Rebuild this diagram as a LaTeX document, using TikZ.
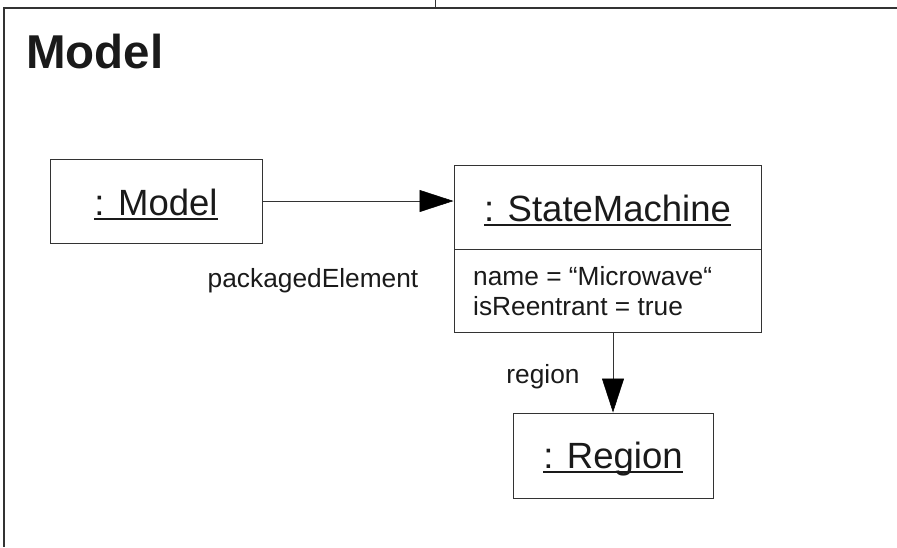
\documentclass[tikz,border=0pt]{standalone}
\usepackage{fontspec}
\setmainfont{Liberation Sans}
\usetikzlibrary{arrows.meta}
\newcommand\ulbox[1]{\setbox0=\hbox{#1}\rlap{\rule[-0.13em]{\wd0}{0.055em}}\box0}
\definecolor{linegray}{HTML}{333333}
\definecolor{textgray}{HTML}{1A1A1A}
\begin{document}
\begin{tikzpicture}[x=1pt,y=-1pt,
  objbox/.style={draw=linegray, line width=1pt, inner sep=0pt, fill=white},
  lbl/.style={inner sep=0pt, text=textgray},
  big/.style={font=\fontsize{36.5}{36.5}\selectfont},
  small/.style={font=\fontsize{26.3}{30}\selectfont},
  conn/.style={draw=linegray, line width=1pt, -{Triangle[length=34pt,width=22pt,color=black,fill=black,line width=0.5pt]}}]
\useasboundingbox (0,0) rectangle (897,547);
% frame
\draw[linegray, line width=1.3pt] (897,8) -- (4,8) -- (4,547);
\draw[linegray, line width=1pt] (435,0) -- (435,8);
\node[lbl, anchor=base west, font=\bfseries\fontsize{47.5}{47.5}\selectfont] (title) at (26,68) {Model};
% boxes
\node[objbox, minimum width=212pt, minimum height=84pt] (model) at (156,201) {};
\node[objbox, minimum width=307pt, minimum height=84pt] (smt) at (607.5,207) {};
\node[objbox, minimum width=307pt, minimum height=83pt] (sma) at (607.5,290.5) {};
\node[objbox, minimum width=200pt, minimum height=85pt] (region) at (613,455.5) {};
% texts
\node[lbl, big, anchor=base] (modeltxt) at (156,215) {\ulbox{: Model}};
\node[lbl, big, anchor=base] (smtxt) at (607.5,221) {\ulbox{: StateMachine}};
\node[lbl, big, anchor=base] (regtxt) at (613,468) {\ulbox{: Region}};
\node[lbl, small, anchor=base west] (attr1) at (473,285) {name = “Microwave“};
\node[lbl, small, anchor=base west] (attr2) at (473,315) {isReentrant = true};
% connectors
\draw[conn] (model.east) -- (model.east -| smt.west);
\draw[conn] (region.north |- sma.south) -- (region.north);
\node[lbl, small, anchor=base] (pelbl) at (313,287) {packagedElement};
\node[lbl, small, anchor=base] (reglbl) at (543,383) {region};
\end{tikzpicture}
\end{document}
